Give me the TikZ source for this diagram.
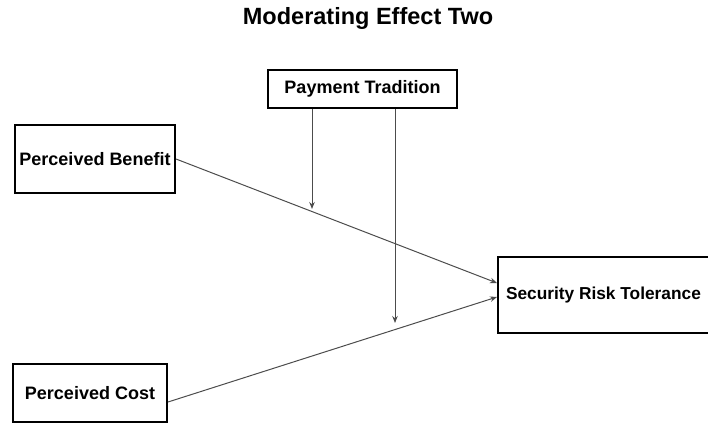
\documentclass[tikz,border=0pt]{standalone}
\usepackage{fontspec}
\setmainfont{Liberation Sans}
\usetikzlibrary{arrows.meta}
\begin{document}
\begin{tikzpicture}[x=1pt,y=-1pt,
  box/.style={draw=black, line width=2pt, fill=white, inner sep=0pt,
    font=\bfseries\fontsize{18}{21}\selectfont},
  link/.style={draw=black!70, line width=1pt, -{Stealth[length=7pt,width=5.5pt]}}]
\useasboundingbox (0,0) rectangle (708,423);
\clip (0,0) rectangle (708,423);
% title
\node[font=\bfseries\fontsize{23.5}{28}\selectfont] (title) at (368,18) {Moderating Effect Two};
% constructs
\node[box, minimum width=160pt, minimum height=68pt] (pb) at (95,159) {Perceived Benefit};
\node[box, minimum width=154pt, minimum height=58pt] (pc) at (90,393) {Perceived Cost};
\node[box, minimum width=189pt, minimum height=38pt] (pt) at (362.5,89) {Payment Tradition};
\node[box, anchor=west, minimum height=76pt, inner xsep=8pt,
  font=\bfseries\fontsize{17.3}{21}\selectfont] (srt) at (497,295) {Security Risk Tolerance};
% moderation targets on the main paths
\coordinate (m1) at (312,209);
\coordinate (m2) at (395,323);
% main effects
\draw[link] (pb.east) -- ([yshift=12pt]srt.west);
\draw[link] ([yshift=-9pt]pc.east) -- ([yshift=-2pt]srt.west);
% moderating effects
\draw[link] (pt.south -| m1) -- (m1);
\draw[link] (pt.south -| m2) -- (m2);
\end{tikzpicture}
\end{document}
